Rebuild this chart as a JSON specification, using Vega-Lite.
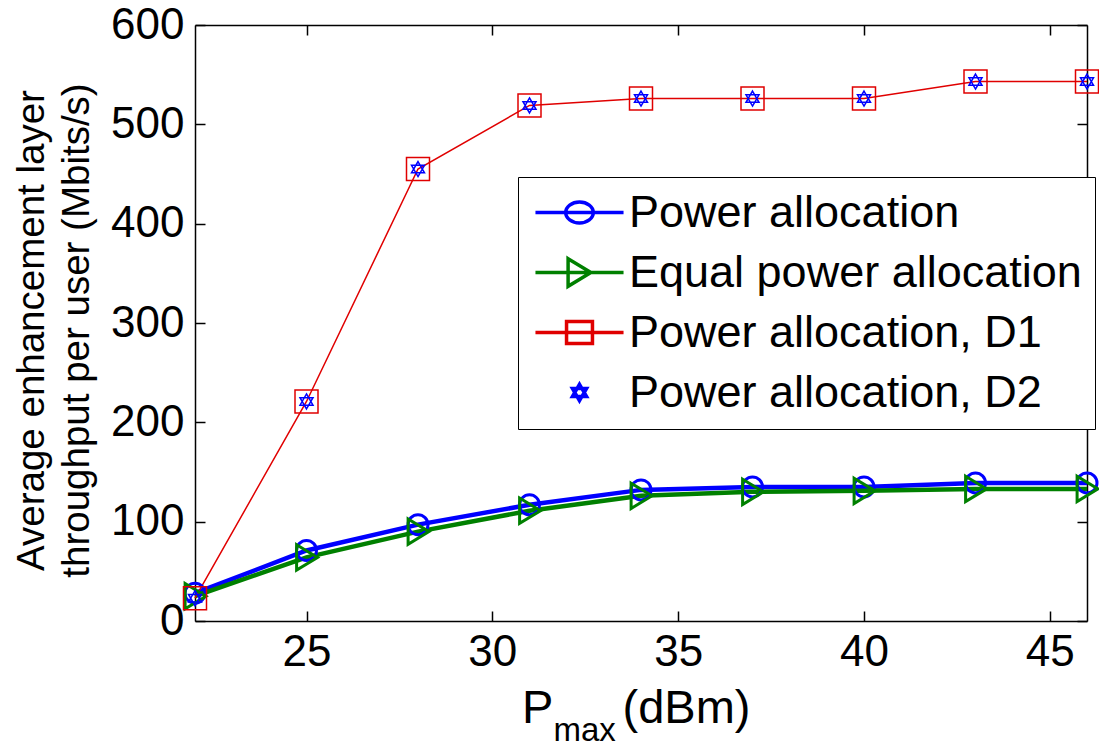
{
  "$schema": "https://vega.github.io/schema/vega-lite/v6.json",
  "width": 892,
  "height": 596,
  "autosize": {"type": "none"},
  "padding": {"left": 195, "top": 25, "right": 12, "bottom": 125},
  "background": "white",
  "config": {
    "view": {"stroke": null},
    "font": "Liberation Sans",
    "axis": {
      "grid": false,
      "domainColor": "black",
      "domainWidth": 1.5,
      "tickColor": "black",
      "tickWidth": 1.5,
      "tickSize": -10,
      "labelFont": "Liberation Sans",
      "labelFontSize": 44,
      "labelColor": "black",
      "labelOverlap": false,
      "labelBound": false,
      "labelFlush": false,
      "titleFont": "Liberation Sans",
      "titleFontWeight": "normal",
      "titleColor": "black",
      "zindex": 1
    }
  },
  "data": {
    "values": [
      {"x": 22, "y": 28, "series": "Power allocation"},
      {"x": 25, "y": 71, "series": "Power allocation"},
      {"x": 28, "y": 97, "series": "Power allocation"},
      {"x": 31, "y": 117, "series": "Power allocation"},
      {"x": 34, "y": 132, "series": "Power allocation"},
      {"x": 37, "y": 135, "series": "Power allocation"},
      {"x": 40, "y": 135, "series": "Power allocation"},
      {"x": 43, "y": 139, "series": "Power allocation"},
      {"x": 46, "y": 139, "series": "Power allocation"},
      {"x": 22, "y": 25, "series": "Equal power allocation"},
      {"x": 25, "y": 64, "series": "Equal power allocation"},
      {"x": 28, "y": 90, "series": "Equal power allocation"},
      {"x": 31, "y": 111, "series": "Equal power allocation"},
      {"x": 34, "y": 126, "series": "Equal power allocation"},
      {"x": 37, "y": 130, "series": "Equal power allocation"},
      {"x": 40, "y": 131, "series": "Equal power allocation"},
      {"x": 43, "y": 133, "series": "Equal power allocation"},
      {"x": 46, "y": 133, "series": "Equal power allocation"},
      {"x": 22, "y": 23, "series": "Power allocation, D1"},
      {"x": 25, "y": 221, "series": "Power allocation, D1"},
      {"x": 28, "y": 455, "series": "Power allocation, D1"},
      {"x": 31, "y": 519, "series": "Power allocation, D1"},
      {"x": 34, "y": 526, "series": "Power allocation, D1"},
      {"x": 37, "y": 526, "series": "Power allocation, D1"},
      {"x": 40, "y": 526, "series": "Power allocation, D1"},
      {"x": 43, "y": 543, "series": "Power allocation, D1"},
      {"x": 46, "y": 543, "series": "Power allocation, D1"},
      {"x": 22, "y": 23, "series": "Power allocation, D2"},
      {"x": 25, "y": 221, "series": "Power allocation, D2"},
      {"x": 28, "y": 455, "series": "Power allocation, D2"},
      {"x": 31, "y": 519, "series": "Power allocation, D2"},
      {"x": 34, "y": 526, "series": "Power allocation, D2"},
      {"x": 37, "y": 526, "series": "Power allocation, D2"},
      {"x": 40, "y": 526, "series": "Power allocation, D2"},
      {"x": 43, "y": 543, "series": "Power allocation, D2"},
      {"x": 46, "y": 543, "series": "Power allocation, D2"}
    ]
  },
  "layer": [
    {
      "transform": [{"filter": "datum.series == 'Power allocation'"}],
      "mark": {"type": "line", "color": "#0000ff", "strokeWidth": 4.5},
      "encoding": {
        "x": {"field": "x", "type": "quantitative", "scale": {"domain": [22, 46], "nice": false, "zero": false},
          "axis": {"orient": "bottom", "values": [25, 30, 35, 40, 45], "labelPadding": 19, "title": "P", "titleFontSize": 47, "titleX": 326.5, "titleY": 101, "titleAlign": "left", "titleBaseline": "alphabetic", "titleAngle": 0}},
        "y": {"field": "y", "type": "quantitative", "scale": {"domain": [0, 600], "nice": false, "zero": true},
          "axis": {"orient": "left", "values": [0, 100, 200, 300, 400, 500, 600], "labelPadding": 21, "title": ["Average enhancement layer", "throughput per user (Mbits/s)"], "titleFontSize": 38.5, "titleLineHeight": 45, "titleX": -152, "titleY": 305, "titleAlign": "center", "titleBaseline": "alphabetic", "titleAngle": -90}}
      }
    },
    {
      "transform": [{"filter": "datum.series == 'Equal power allocation'"}],
      "mark": {"type": "line", "color": "#008000", "strokeWidth": 4.5},
      "encoding": {
        "x": {"field": "x", "type": "quantitative",
          "axis": {"orient": "top", "values": [25, 30, 35, 40, 45], "labels": false, "title": null}},
        "y": {"field": "y", "type": "quantitative",
          "axis": {"orient": "right", "values": [0, 100, 200, 300, 400, 500, 600], "labels": false, "title": null}}
      }
    },
    {
      "transform": [{"filter": "datum.series == 'Power allocation, D1'"}],
      "mark": {"type": "line", "color": "#e00000", "strokeWidth": 1.5},
      "encoding": {
        "x": {"field": "x", "type": "quantitative",
          "axis": {"orient": "bottom", "domain": false, "ticks": false, "labels": false, "title": "max", "titleFontSize": 33, "titleX": 358, "titleY": 119, "titleAlign": "left", "titleBaseline": "alphabetic", "titleAngle": 0}},
        "y": {"field": "y", "type": "quantitative", "axis": null}
      }
    },
    {
      "transform": [{"filter": "datum.series == 'Power allocation'"}],
      "mark": {"type": "point", "filled": false, "opacity": 1, "color": "#0000ff", "strokeWidth": 3, "size": 400, "shape": "M-1,0A1,1 0 1,0 1,0A1,1 0 1,0 -1,0Z"},
      "encoding": {
        "x": {"field": "x", "type": "quantitative",
          "axis": {"orient": "bottom", "domain": false, "ticks": false, "labels": false, "title": "(dBm)", "titleFontSize": 47, "titleX": 427, "titleY": 101, "titleAlign": "left", "titleBaseline": "alphabetic", "titleAngle": 0}},
        "y": {"field": "y", "type": "quantitative", "axis": null}
      }
    },
    {
      "transform": [{"filter": "datum.series == 'Equal power allocation'"}],
      "mark": {"type": "point", "filled": false, "opacity": 1, "color": "#008000", "strokeWidth": 3, "size": 484, "shape": "M-0.9,-1.15L1,0L-0.9,1.15Z"},
      "encoding": {
        "x": {"field": "x", "type": "quantitative", "axis": null},
        "y": {"field": "y", "type": "quantitative", "axis": null}
      }
    },
    {
      "transform": [{"filter": "datum.series == 'Power allocation, D1'"}],
      "mark": {"type": "point", "filled": false, "opacity": 1, "color": "#e00000", "strokeWidth": 1.5, "size": 529, "shape": "M-1,-1H1V1H-1Z"},
      "encoding": {
        "x": {"field": "x", "type": "quantitative", "axis": null},
        "y": {"field": "y", "type": "quantitative", "axis": null}
      }
    },
    {
      "transform": [{"filter": "datum.series == 'Power allocation, D2'"}],
      "mark": {"type": "point", "filled": false, "opacity": 1, "color": "#0000ff", "strokeWidth": 1.5, "size": 225, "shape": "M0,-1L0.866,0.5L-0.866,0.5Z M0,1L0.866,-0.5L-0.866,-0.5Z"},
      "encoding": {
        "x": {"field": "x", "type": "quantitative", "axis": null},
        "y": {"field": "y", "type": "quantitative", "axis": null}
      }
    },
    {
      "transform": [{"filter": "datum.x < 0"}],
      "mark": {"type": "point", "filled": false, "opacity": 1},
      "encoding": {
        "x": {"field": "x", "type": "quantitative", "axis": null},
        "y": {"field": "y", "type": "quantitative", "axis": null},
        "color": {"field": "series", "type": "nominal",
          "scale": {"domain": ["Power allocation", "Equal power allocation", "Power allocation, D1", "Power allocation, D2"], "range": ["#0000ff", "#008000", "#e00000", "#0000ff"]},
          "legend": {
            "title": null, "orient": "none", "legendX": 323, "legendY": 152, "padding": 13,
            "strokeColor": "black", "fillColor": "white",
            "labelFont": "Liberation Sans", "labelFontSize": 45, "labelColor": "black", "labelLimit": 800,
            "symbolSize": 576, "symbolOffset": 26, "labelOffset": 27, "rowPadding": 14, "zindex": 2
          }},
        "shape": {"field": "series", "type": "nominal",
          "scale": {"domain": ["Power allocation", "Equal power allocation", "Power allocation, D1", "Power allocation, D2"],
            "range": ["M-3.67,0H3.67M-1.15,0A1.15,0.88 0 1,0 1.15,0A1.15,0.88 0 1,0 -1.15,0", "M-3.67,0H3.67M-0.95,-1.15L0.95,0L-0.95,1.15Z", "M-3.67,0H3.67M-1.08,-0.92H1.08V0.92H-1.08Z", "M0,-0.68L0.59,0.34L-0.59,0.34Z M0,0.68L0.59,-0.34L-0.59,-0.34Z"]}},
        "strokeWidth": {"field": "series", "type": "nominal",
          "scale": {"domain": ["Power allocation", "Equal power allocation", "Power allocation, D1", "Power allocation, D2"], "range": [3.5, 3.5, 1.5, 1]}}
      }
    }
  ],
  "resolve": {"scale": {"x": "shared", "y": "shared"}, "axis": {"x": "independent", "y": "independent"}}
}
